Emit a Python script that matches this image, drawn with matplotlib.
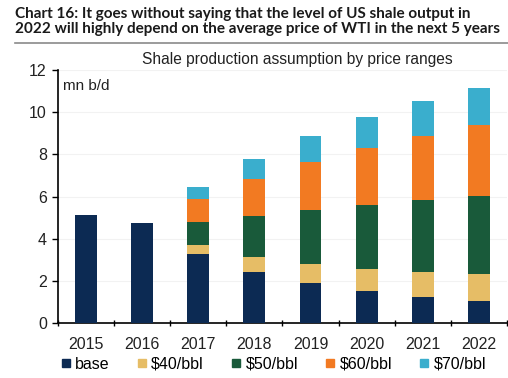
import numpy as np
import matplotlib.pyplot as plt
from matplotlib.lines import Line2D

# Data (mn b/d)
years = ["2015", "2016", "2017", "2018", "2019", "2020", "2021", "2022"]
base = [5.12, 4.72, 3.27, 2.43, 1.91, 1.53, 1.22, 1.03]
p40 = [0, 0, 0.43, 0.71, 0.89, 1.03, 1.18, 1.29]
p50 = [0, 0, 1.10, 1.95, 2.56, 3.03, 3.43, 3.71]
p60 = [0, 0, 1.06, 1.73, 2.29, 2.72, 3.03, 3.34]
p70 = [0, 0, 0.57, 0.95, 1.23, 1.47, 1.68, 1.80]

series = [base, p40, p50, p60, p70]
labels = ["base", "$40/bbl", "$50/bbl", "$60/bbl", "$70/bbl"]
colors = ["#0c2a53", "#e6bd66", "#195a3a", "#f27a22", "#3aaecd"]

fig = plt.figure(figsize=(5.08, 3.78), dpi=100)
ax = fig.add_axes([0.114, 0.1455, 0.884, 0.6693])

x = np.arange(len(years))
bottom = np.zeros(len(years))
for vals, lab, col in zip(series, labels, colors):
    vals = np.array(vals)
    ax.bar(x, vals, 0.39, bottom=bottom, color=col, label=lab, zorder=3)
    bottom += vals

ax.set_xlim(-0.5, 7.5)
ax.set_ylim(0, 12)
ax.set_yticks(range(0, 13, 2))
ax.set_xticks(x)
ax.set_xticklabels(years)
ax.set_xticks(np.arange(-0.5, 8, 1), minor=True)
ax.tick_params(axis="x", which="major", length=0, pad=10, labelsize=11.5)
ax.tick_params(axis="x", which="minor", length=5, direction="inout", width=1)
ax.tick_params(axis="y", length=4, width=1, labelsize=11.5, pad=4)
for lbl in ax.get_xticklabels() + ax.get_yticklabels():
    lbl.set_fontfamily("Liberation Sans")
    lbl.set_color("#222222")
ax.grid(axis="y", color="#f2f2f2", lw=0.8, zorder=0)
for s in ["top", "right"]:
    ax.spines[s].set_visible(False)
ax.spines["left"].set_linewidth(1.2)
ax.spines["bottom"].set_linewidth(1.2)

ax.text(0.012, 0.965, "mn b/d", transform=ax.transAxes, fontsize=11,
        family="Liberation Sans", va="top", color="#222222")

fig.text(0.03, 0.982, "Chart 16: It goes without saying that the level of US shale output in\n"
         "2022 will highly depend on the average price of WTI in the next 5 years",
         fontsize=11.0, fontweight="bold", family="Lato", va="top",
         linespacing=1.12, color="#1a1a1a")
fig.add_artist(Line2D([0.03, 1.0], [0.887, 0.887], color="#8a8a8a", lw=1.2))
fig.text(0.585, 0.832, "Shale production assumption by price ranges",
         fontsize=11.2, family="Liberation Sans", ha="center", color="#222222")

handles = [Line2D([], [], marker="s", ls="", color=c, markersize=5.5) for c in colors]
fig.legend(handles, labels, loc="center", bbox_to_anchor=(0.535, 0.036), ncol=5,
           frameon=False, handletextpad=0.1, columnspacing=1.5, handlelength=1.0,
           prop={"family": "Liberation Sans", "size": 11.5})

fig.savefig("out.png", dpi=100)
